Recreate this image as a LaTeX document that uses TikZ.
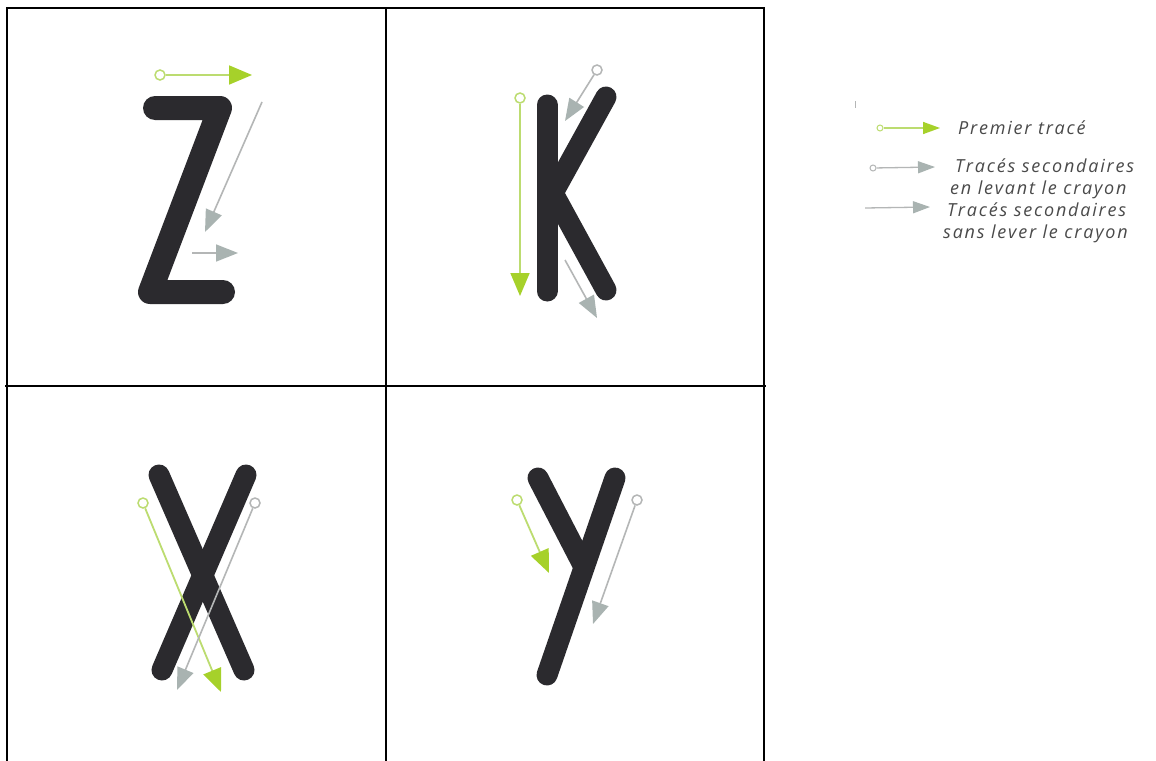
\documentclass[tikz,border=0pt]{standalone}
\usepackage{fontspec}
\setmainfont{Open Sans}
\newfontfamily\legfont[LetterSpace=10]{Open Sans}
\usetikzlibrary{arrows.meta}
\definecolor{lettercol}{HTML}{2B2A2E}
\definecolor{greenln}{HTML}{BCDC70}
\definecolor{greenhd}{HTML}{A6D12A}
\definecolor{greyln}{HTML}{B4B6B6}
\definecolor{greyhd}{HTML}{A9B3B1}
\definecolor{legtext}{HTML}{4A4A4A}
\begin{document}
\begin{tikzpicture}[x=1pt,y=-1pt,
  frame/.style={draw=black, line width=2pt},
  letter/.style={draw=lettercol, line width=21pt, line cap=round, line join=round},
  firstarr/.style={draw=greenln, line width=1.8pt, -{Triangle[length=23pt,width=19pt,color=greenhd]}},
  secarr/.style={draw=greyln, line width=1.6pt, -{Triangle[length=22pt,width=17pt,color=greyhd]}},
  gstart/.style={circle, draw=greenln, line width=1.5pt, fill=white, minimum size=10pt, inner sep=0pt},
  sstart/.style={circle, draw=greyln, line width=1.5pt, fill=white, minimum size=10pt, inner sep=0pt},
  legfirst/.style={draw=greenln, line width=1.5pt, -{Triangle[length=17pt,width=12pt,color=greenhd]}},
  legsec/.style={draw=greyln, line width=1.3pt, -{Triangle[length=17pt,width=12pt,color=greyhd]}},
  lgstart/.style={circle, draw=greenln, line width=1pt, fill=white, minimum size=6pt, inner sep=0pt},
  lsstart/.style={circle, draw=greyln, line width=1pt, fill=white, minimum size=6pt, inner sep=0pt},
  legtxt/.style={anchor=base west, inner sep=0pt, text=legtext, font=\legfont\fontsize{18}{20}\selectfont\itshape}
]
\useasboundingbox (0,0) rectangle (1156,760);
\fill[white] (0,0) rectangle (1156,760);
% table frame
\draw[frame] (7,770) -- (7,8) -- (764,8) -- (764,770);
\draw[frame] (386,8) -- (386,770);
\draw[frame] (5,386) -- (766,386);

% Z
\draw[letter, line width=24pt] (155,108) -- (220,108) -- (150,292) -- (223,292);
\node[gstart] (zg) at (160,75) {};
\coordinate (zgt) at (252,75);
\draw[firstarr] (zg) -- (zgt);
\coordinate (zs1a) at (262,102);
\coordinate (zs1b) at (205,232);
\draw[secarr] (zs1a) -- (zs1b);
\coordinate (zs2a) at (192,253);
\coordinate (zs2b) at (238,253);
\draw[secarr] (zs2a) -- (zs2b);

% K
\draw[letter] (547,105) -- (547,291);
\draw[letter] (606,97) -- (553,193) -- (606,290);
\node[gstart] (kg) at (520,98) {};
\coordinate (kgt) at (520,296);
\draw[firstarr] (kg) -- (kgt);
\node[sstart] (ks) at (597,70) {};
\coordinate (kst) at (565,121);
\draw[secarr] (ks) -- (kst);
\coordinate (ks2a) at (565,260);
\coordinate (ks2b) at (597,318);
\draw[secarr] (ks2a) -- (ks2b);

% X
\draw[letter] (159,475) -- (244,670);
\draw[letter] (246,475) -- (162,670);
\node[gstart] (xg) at (143,503) {};
\coordinate (xgt) at (221,692);
\draw[firstarr] (xg) -- (xgt);
\node[sstart] (xs) at (255,503) {};
\coordinate (xst) at (177,690);
\draw[secarr] (xs) -- (xst);

% Y
\draw[letter] (538,478) -- (583,565);
\draw[letter] (615,478) -- (547,675);
\node[gstart] (yg) at (517,500) {};
\coordinate (ygt) at (549,573);
\draw[firstarr] (yg) -- (ygt);
\node[sstart] (ys) at (637,500) {};
\coordinate (yst) at (593,624);
\draw[secarr] (ys) -- (yst);

% legend
\coordinate (tk1) at (855,101);
\coordinate (tk2) at (855,108);
\draw[greyln, line width=0.8pt] (tk1) -- (tk2);
\node[lgstart] (l1) at (880,128) {};
\coordinate (l1t) at (940,128);
\draw[legfirst] (l1) -- (l1t);
\node[legtxt] (t1) at (958,134) {Premier tracé};
\node[lsstart] (l2) at (873,168) {};
\coordinate (l2t) at (935,167);
\draw[legsec] (l2) -- (l2t);
\node[legtxt] (t2a) at (955,172) {Tracés secondaires};
\node[legtxt] (t2b) at (950,194) {en levant le crayon};
\coordinate (l3s) at (865,208);
\coordinate (l3t) at (930,207);
\draw[legsec] (l3s) -- (l3t);
\node[legtxt] (t3a) at (947,216) {Tracés secondaires};
\node[legtxt] (t3b) at (943,238) {sans lever le crayon};
\end{tikzpicture}
\end{document}
